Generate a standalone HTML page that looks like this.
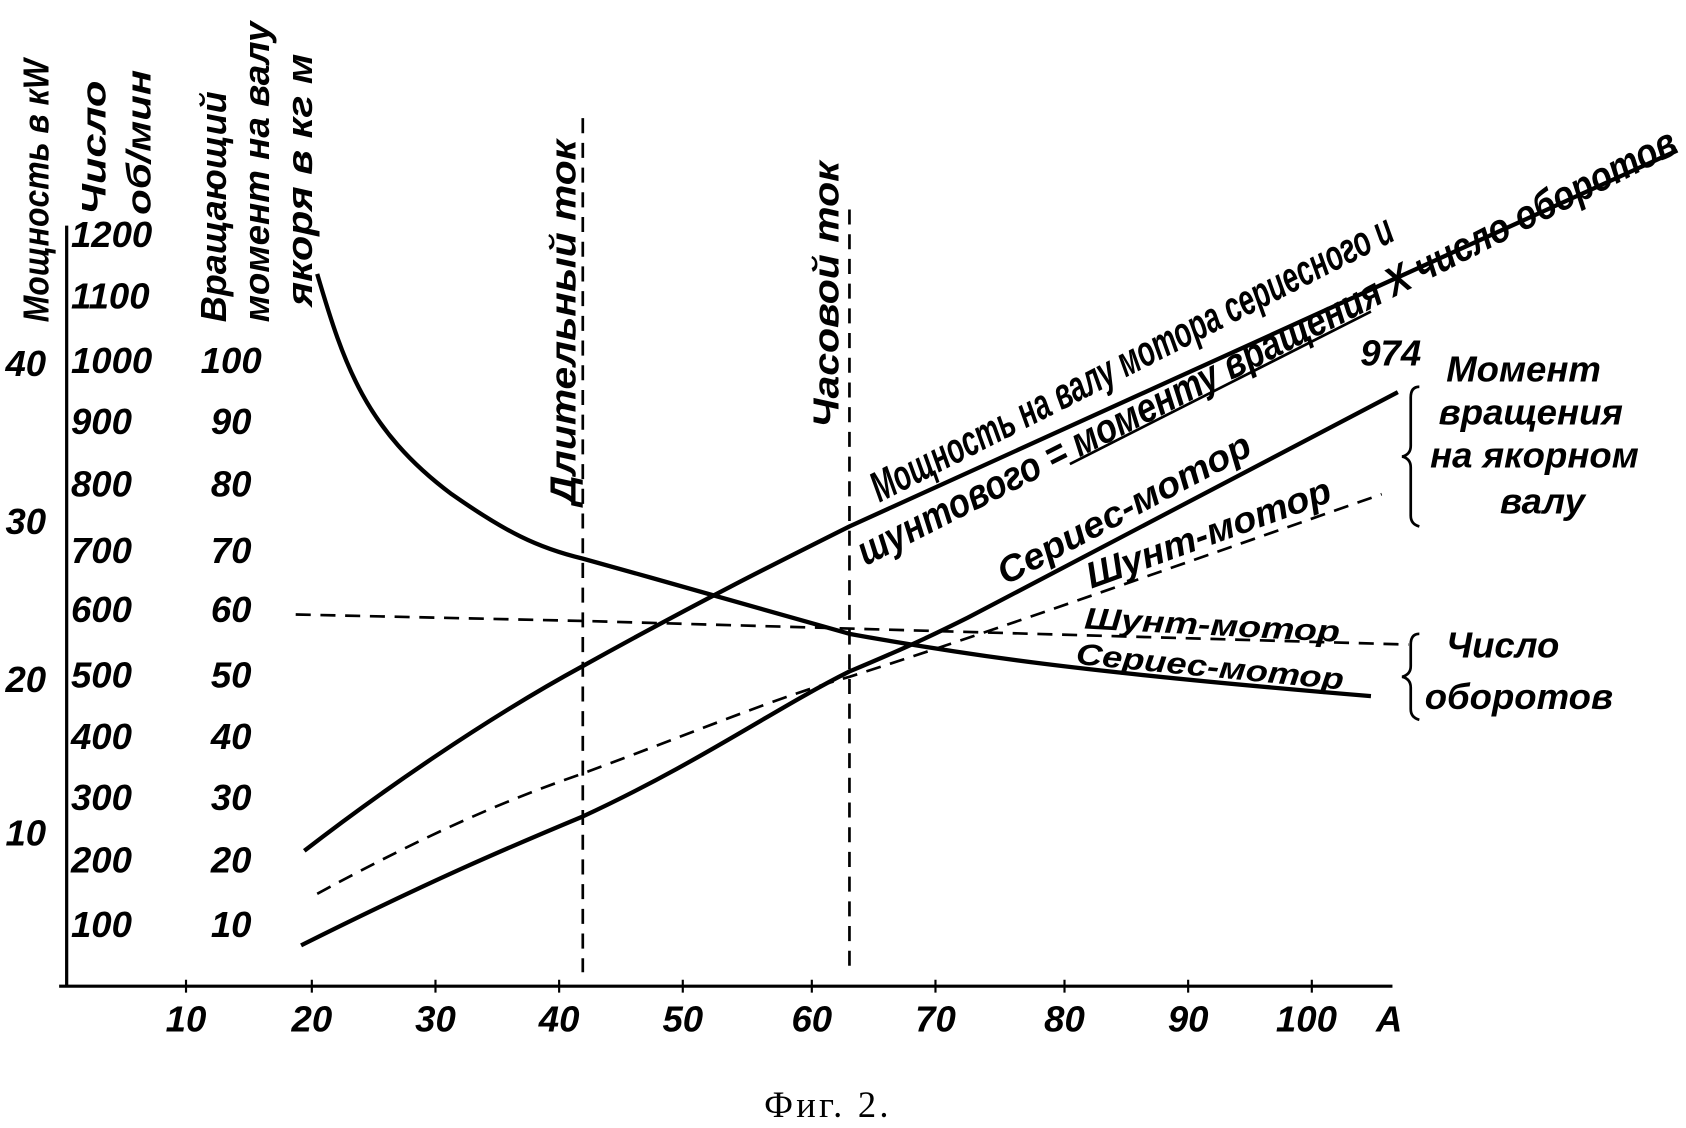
<!DOCTYPE html>
<html><head><meta charset="utf-8"><style>
html,body{margin:0;padding:0;background:#fff}
svg{display:block}
text{font-family:"Liberation Sans",sans-serif;font-style:italic;font-weight:bold;fill:#000}
.t{font-size:34px}
</style></head><body>
<svg width="1686" height="1128" viewBox="0 0 1568 1050" preserveAspectRatio="none" xmlns="http://www.w3.org/2000/svg">
<g stroke="#000" fill="none">
<line x1="62" y1="210" x2="62" y2="918" stroke-width="3"/>
<line x1="55" y1="918" x2="1295" y2="918" stroke-width="3"/>
<g stroke-width="2">
<line x1="173" y1="912" x2="173" y2="924"/><line x1="290" y1="912" x2="290" y2="924"/>
<line x1="405" y1="912" x2="405" y2="924"/><line x1="520" y1="912" x2="520" y2="924"/>
<line x1="635" y1="912" x2="635" y2="924"/><line x1="755" y1="912" x2="755" y2="924"/>
<line x1="870" y1="912" x2="870" y2="924"/><line x1="990" y1="912" x2="990" y2="924"/>
<line x1="1105" y1="912" x2="1105" y2="924"/><line x1="1220" y1="912" x2="1220" y2="924"/>
</g>
<line x1="542" y1="110" x2="542" y2="905" stroke-width="2.5" stroke-dasharray="14,9"/>
<line x1="790" y1="195" x2="790" y2="905" stroke-width="2.5" stroke-dasharray="14,9"/>
<path d="M295,255 C320,340 340,400 420,460 C470,495 500,510 542,520 C650,550 790,590 790,590 C900,610 1000,625 1275,648" stroke-width="4"/>
<path d="M275,572 L542,578 L1310,600" stroke-width="2.5" stroke-dasharray="14,9"/>
<path d="M283,792 C350,740 450,670 542,620 C650,560 720,525 790,490 L1560,140" stroke-width="4"/>
<path d="M280,880 C400,820 470,790 542,760 C650,710 720,660 790,625 C850,600 880,585 900,575 L1300,365" stroke-width="4"/>
<path d="M295,832 C400,775 470,745 542,720 C650,680 720,650 790,630 C900,595 1000,560 1285,460" stroke-width="2.5" stroke-dasharray="14,9"/>
<path d="M995,432 L1275,290" stroke-width="2.5"/>
<path d="M1320,360 q-8,0 -8,10 v45 q0,8 -8,10 q8,2 8,10 v45 q0,8 8,10" stroke-width="2.5"/>
<path d="M1320,590 q-8,0 -8,10 v20 q0,8 -8,10 q8,2 8,10 v20 q0,8 8,10" stroke-width="2.5"/>
</g>
<g class="t" text-anchor="middle">
<text x="173" y="960">10</text><text x="290" y="960">20</text><text x="405" y="960">30</text>
<text x="520" y="960">40</text><text x="635" y="960">50</text><text x="755" y="960">60</text>
<text x="870" y="960">70</text><text x="990" y="960">80</text><text x="1105" y="960">90</text>
<text x="1215" y="960">100</text><text x="1292" y="960">A</text>
</g>
<g class="t" text-anchor="middle">
<text x="24" y="350">40</text><text x="24" y="497">30</text><text x="24" y="644">20</text><text x="24" y="787">10</text>
</g>
<g class="t" text-anchor="start" font-size="32">
<text x="66" y="230">1200</text><text x="66" y="287">1100</text><text x="66" y="347">1000</text>
<text x="66" y="404">900</text><text x="66" y="462">800</text><text x="66" y="524">700</text>
<text x="66" y="579">600</text><text x="66" y="640">500</text><text x="66" y="697">400</text>
<text x="66" y="754">300</text><text x="66" y="812">200</text><text x="66" y="872">100</text>
</g>
<g class="t" text-anchor="middle">
<text x="215" y="347">100</text><text x="215" y="404">90</text><text x="215" y="462">80</text>
<text x="215" y="524">70</text><text x="215" y="579">60</text><text x="215" y="640">50</text>
<text x="215" y="697">40</text><text x="215" y="754">30</text><text x="215" y="812">20</text>
<text x="215" y="872">10</text>
</g>
<g font-size="34">
<text transform="translate(45,300) rotate(-90)" textLength="245" lengthAdjust="spacingAndGlyphs">Мощность в кW</text>
<text transform="translate(98,200) rotate(-90)" font-size="32" textLength="125" lengthAdjust="spacingAndGlyphs">Число</text>
<text transform="translate(140,200) rotate(-90)" font-size="32" textLength="135" lengthAdjust="spacingAndGlyphs">об/мин</text>
<text transform="translate(210,300) rotate(-90)" textLength="215" lengthAdjust="spacingAndGlyphs">Вращающий</text>
<text transform="translate(250,300) rotate(-90)" textLength="280" lengthAdjust="spacingAndGlyphs">момент на валу</text>
<text transform="translate(290,285) rotate(-90)" textLength="235" lengthAdjust="spacingAndGlyphs">якоря в кг м</text>
<text transform="translate(535,470) rotate(-90)" textLength="340" lengthAdjust="spacingAndGlyphs">Длительный ток</text>
<text transform="translate(780,398) rotate(-90)" textLength="248" lengthAdjust="spacingAndGlyphs">Часовой ток</text>
<text transform="translate(818,468) rotate(-27)" font-size="40" textLength="540" lengthAdjust="spacingAndGlyphs">Мощность на валу мотора сериесного и</text>
<text transform="translate(805,527) rotate(-27)" font-size="38" textLength="850" lengthAdjust="spacingAndGlyphs">шунтового = моменту вращения X число оборотов</text>
<text x="1265" y="340">974</text>
<text transform="translate(935,545) rotate(-28)" textLength="262" lengthAdjust="spacingAndGlyphs">Сериес-мотор</text>
<text transform="translate(1015,548) rotate(-20)" textLength="240" lengthAdjust="spacingAndGlyphs">Шунт-мотор</text>
<text transform="translate(1008,585) rotate(3)" font-size="28" textLength="238" lengthAdjust="spacingAndGlyphs">Шунт-мотор</text>
<text transform="translate(1000,618) rotate(5.5)" font-size="28" textLength="250" lengthAdjust="spacingAndGlyphs">Сериес-мотор</text>
<text x="1345" y="355">Момент</text>
<text x="1338" y="395">вращения</text>
<text x="1330" y="435">на якорном</text>
<text x="1395" y="478">валу</text>
<text x="1345" y="612">Число</text>
<text x="1325" y="660">оборотов</text>
</g>
<text x="770" y="1040" text-anchor="middle" style="font-family:'Liberation Serif',serif;font-style:normal;font-weight:normal;font-size:34px;letter-spacing:3px">Фиг. 2.</text>
</svg>
</body></html>
